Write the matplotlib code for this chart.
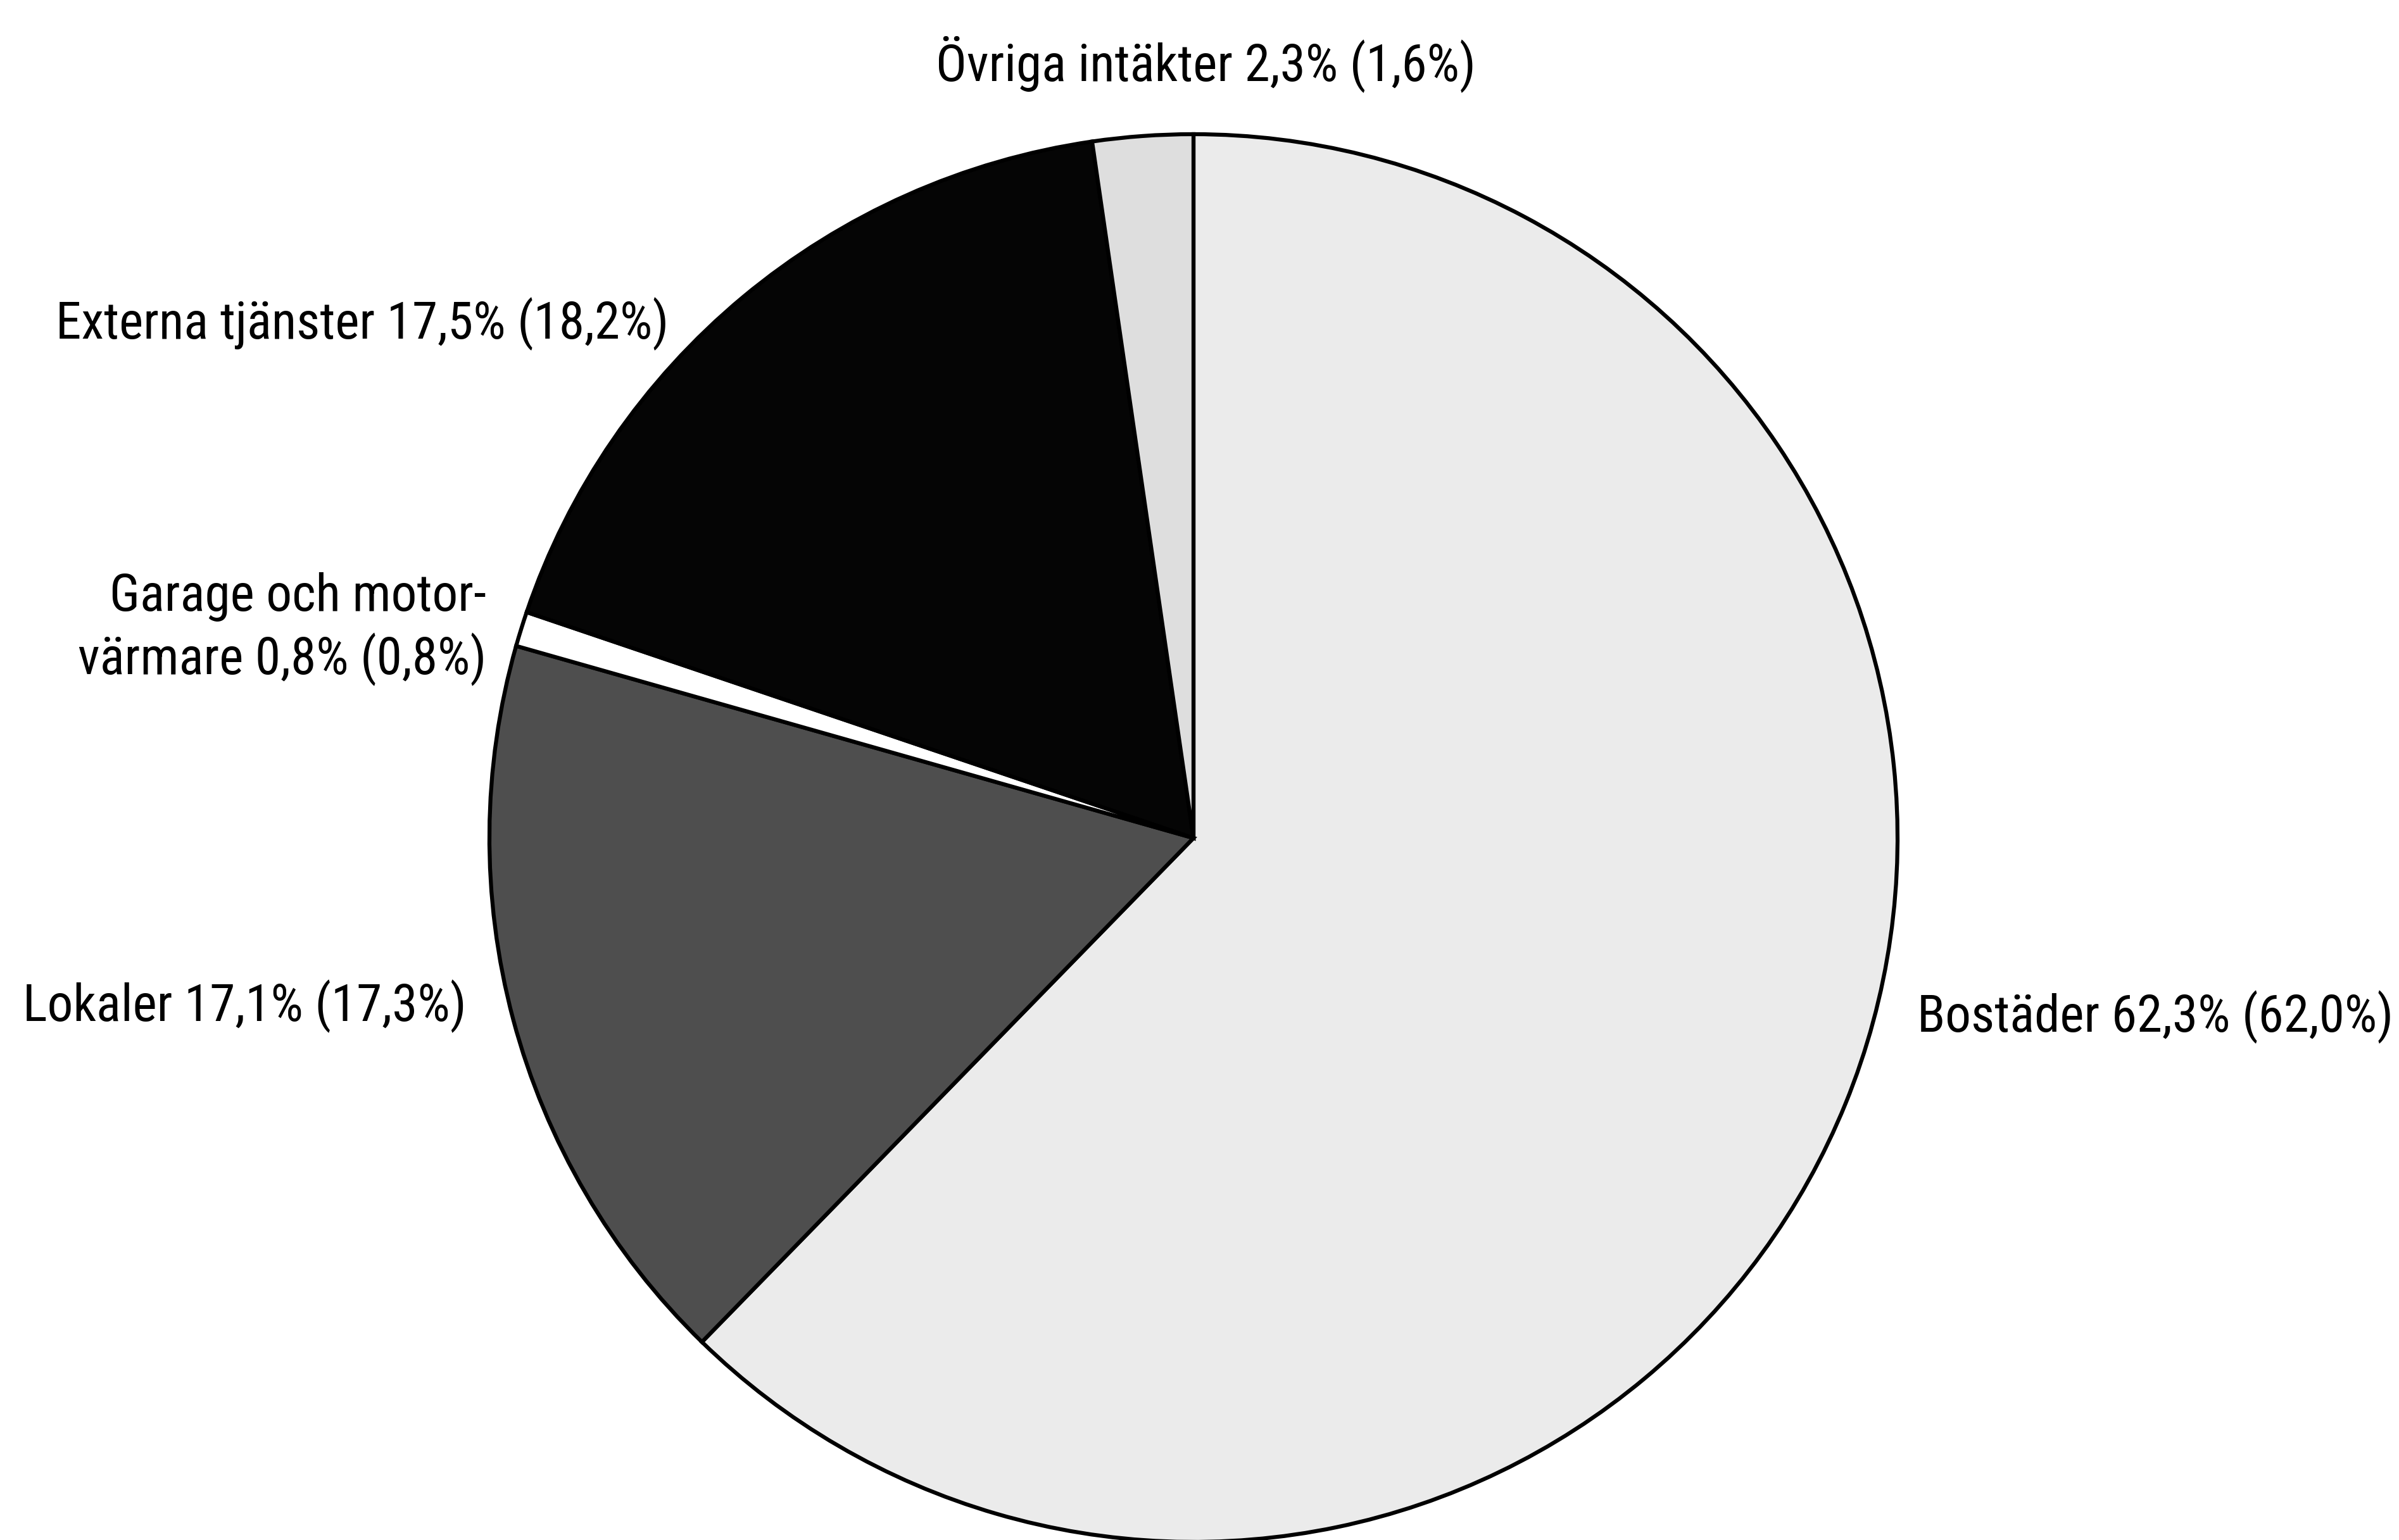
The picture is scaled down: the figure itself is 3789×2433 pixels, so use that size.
import matplotlib
matplotlib.use("Agg")
import matplotlib.pyplot as plt

labels = ["Bostäder 62,3% (62,0%)", "Lokaler 17,1% (17,3%)",
          "Garage och motor-\nvärmare 0,8% (0,8%)",
          "Externa tjänster 17,5% (18,2%)", "Övriga intäkter 2,3% (1,6%)"]
values = [62.3, 17.1, 0.8, 17.5, 2.3]
colors = ["#ebebeb", "#4e4e4e", "#ffffff", "#050505", "#dedede"]

W, H = 3789, 2433
fig = plt.figure(figsize=(W / 300, H / 300), dpi=300)
ax = fig.add_axes([0, 0, 1, 1])
cx, cy, R = 1885, H - 1324, 1112
ax.pie(values, colors=colors, startangle=90, counterclock=False,
       center=(cx, cy), radius=R,
       wedgeprops=dict(edgecolor="black", linewidth=1.5))
ax.set_xlim(0, W)
ax.set_ylim(0, H)
ax.set_aspect("equal")
ax.axis("off")

fam = ["Roboto Condensed", "DejaVu Sans"]
fs = 19.5
kw = dict(fontsize=fs, family=fam, fontstretch="condensed")
ax.text(1904, H - 101, labels[4], ha="center", va="center", **kw)
ax.text(1056, H - 512, labels[3], ha="right", va="center", **kw)
ax.text(768, H - 994, labels[2], ha="right", va="center",
        linespacing=1.28, multialignment="right", **kw)
ax.text(737, H - 1590, labels[1], ha="right", va="center", **kw)
ax.text(3028, H - 1607, labels[0], ha="left", va="center", **kw)

fig.savefig("out.png", dpi=300, facecolor="white")
